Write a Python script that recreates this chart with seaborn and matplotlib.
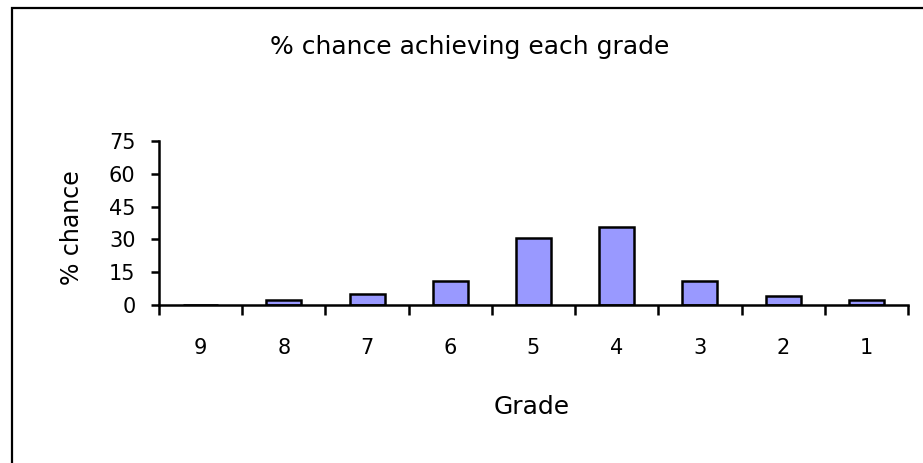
import seaborn as sns
import matplotlib.pyplot as plt
from matplotlib.patches import Rectangle
from matplotlib.ticker import FixedLocator

grades = ['9', '8', '7', '6', '5', '4', '3', '2', '1']
chance = [0, 2.5, 5, 11, 30.5, 35.5, 11, 4, 2.5]

sns.set_style('white')
plt.rcParams['font.family'] = ['DejaVu Sans']
plt.rcParams['text.color'] = 'black'
plt.rcParams['axes.labelcolor'] = 'black'
plt.rcParams['xtick.color'] = 'black'
plt.rcParams['ytick.color'] = 'black'

fig = plt.figure(figsize=(9.23, 4.63), dpi=100)
ax = fig.add_axes([159/923, 1 - 305/463, 749/923, 164/463])

sns.barplot(x=grades, y=chance, order=grades, color='#9999FF', saturation=1,
            edgecolor='black', linewidth=1.8, width=0.42, ax=ax)

ax.set_ylim(0, 75)
ax.set_yticks([0, 15, 30, 45, 60, 75])
ax.set_xlim(-0.5, 8.5)
# ticks between categories, labels under the bars
ax.xaxis.set_major_locator(FixedLocator([i - 0.5 for i in range(10)]))
ax.xaxis.set_minor_locator(FixedLocator(range(9)))
ax.set_xticklabels([])
ax.set_xticklabels(grades, minor=True)
ax.tick_params(axis='x', which='major', direction='out', length=7, width=1.8, bottom=True)
ax.tick_params(axis='x', which='minor', length=0, pad=24, labelsize=15)
ax.tick_params(axis='y', direction='out', length=6, width=1.8, left=True, labelsize=15, pad=11)

for side in ['top', 'right']:
    ax.spines[side].set_visible(False)
for side in ['left', 'bottom']:
    ax.spines[side].set_color('black')
    ax.spines[side].set_linewidth(1.8)

ax.set_xlabel('Grade', fontsize=18)
ax.xaxis.set_label_coords(0.498, (305 - 407) / 164)
ax.xaxis.label.set_va('center')
ax.set_ylabel('% chance', fontsize=17)
ax.yaxis.set_label_coords((72 - 159) / 749, (305 - 228) / 164)
ax.yaxis.label.set_va('center')
fig.text(470/923, 1 - 47/463, '% chance achieving each grade', fontsize=18,
         ha='center', va='center')

fig.patches.append(Rectangle((12/923, -0.05), 1.0, 1.05 - 8/463, transform=fig.transFigure,
                             fill=False, edgecolor='black', linewidth=1.6))

fig.savefig('out.png', dpi=100, facecolor='white')
